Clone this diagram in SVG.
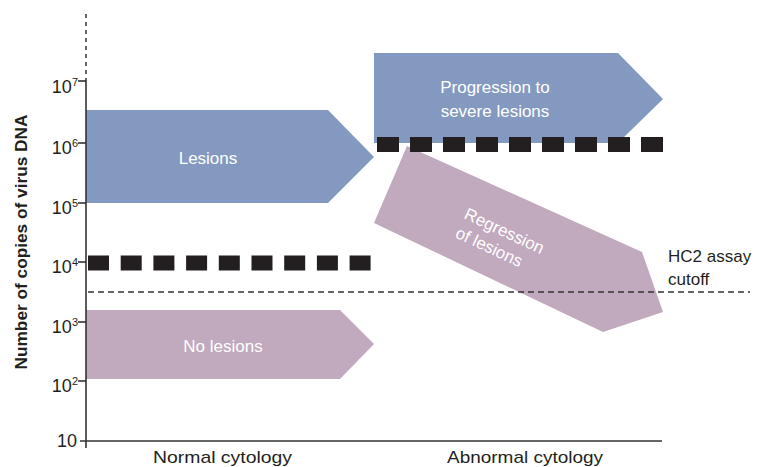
<svg xmlns="http://www.w3.org/2000/svg" width="762" height="467" viewBox="0 0 762 467">
<style>
  text { font-family: "Liberation Sans", Arial, sans-serif; }
  .tick { font-size: 18px; fill: #231f20; }
  .sup { font-size: 11px; }
  .lbl { font-size: 17px; fill: #231f20; }
  .inner { font-size: 17px; fill: #ffffff; }
  .blue { fill: #8399bf; }
  .pink { fill: #c1a9be; }
  .axis { stroke: #333; stroke-width: 1.6; fill: none; }
  .blk { stroke: #231f20; stroke-width: 15; stroke-dasharray: 22 11; fill: none; }
</style>
<rect width="762" height="467" fill="#ffffff"/>

<g id="lesions">
  <polygon class="blue" points="86,110 328,110 374,157 328,203 86,203"/>
  <text class="inner" x="208" y="164" text-anchor="middle">Lesions</text>
</g>
<g id="no-lesions">
  <polygon class="pink" points="86,310 340,310 374,344 340,379 86,379"/>
  <text class="inner" x="223" y="352" text-anchor="middle">No lesions</text>
</g>
<g id="progression">
  <polygon class="blue" points="374,53 618,53 663,99 618,143 374,143"/>
  <text class="inner" x="495" y="93" text-anchor="middle">Progression to</text>
  <text class="inner" x="495" y="117" text-anchor="middle">severe lesions</text>
</g>
<g id="regression">
  <polygon class="pink" points="407,146 642,252 663,312 603,332 374,223"/>
  <g transform="translate(463,218) rotate(25)">
    <text class="inner" x="0" y="0">Regression</text>
    <text class="inner" x="0" y="21">of lesions</text>
  </g>
</g>

<g id="connectors">
  <line class="blk" x1="377" y1="144.5" x2="663" y2="144.5"/>
  <line class="blk" x1="88" y1="263" x2="371" y2="263" style="stroke-dasharray:21 11.7"/>
  <line x1="88" y1="292" x2="750" y2="292" stroke="#333" stroke-width="1.4" stroke-dasharray="6 4"/>
</g>

<g id="axes">
  <line x1="86" y1="14" x2="86" y2="80" stroke="#333" stroke-width="1.5" stroke-dasharray="4 4"/>
  <line class="axis" x1="86" y1="80" x2="86" y2="448"/>
  <line class="axis" x1="80" y1="441" x2="662" y2="441"/>
  <g class="axis">
    <line x1="78" y1="81" x2="86" y2="81"/>
    <line x1="78" y1="143" x2="86" y2="143"/>
    <line x1="78" y1="203" x2="86" y2="203"/>
    <line x1="78" y1="262" x2="86" y2="262"/>
    <line x1="78" y1="322" x2="86" y2="322"/>
    <line x1="78" y1="381" x2="86" y2="381"/>
  </g>
  <text class="tick" x="78" y="93" text-anchor="end">10<tspan class="sup" dy="-7">7</tspan></text>
  <text class="tick" x="78" y="154" text-anchor="end">10<tspan class="sup" dy="-7">6</tspan></text>
  <text class="tick" x="78" y="214" text-anchor="end">10<tspan class="sup" dy="-7">5</tspan></text>
  <text class="tick" x="78" y="273" text-anchor="end">10<tspan class="sup" dy="-7">4</tspan></text>
  <text class="tick" x="78" y="333" text-anchor="end">10<tspan class="sup" dy="-7">3</tspan></text>
  <text class="tick" x="78" y="392" text-anchor="end">10<tspan class="sup" dy="-7">2</tspan></text>
  <text class="tick" x="77" y="447" text-anchor="end">10</text>
  <text transform="translate(27,242) rotate(-90)" text-anchor="middle" font-size="17" font-weight="bold" fill="#231f20" textLength="255" lengthAdjust="spacingAndGlyphs">Number of copies of virus DNA</text>
  <text class="lbl" x="153" y="463" textLength="139" lengthAdjust="spacingAndGlyphs">Normal cytology</text>
  <text class="lbl" x="447" y="463" textLength="156" lengthAdjust="spacingAndGlyphs">Abnormal cytology</text>
</g>

<g id="hc2-label">
  <text class="lbl" x="668" y="262" font-size="16">HC2 assay</text>
  <text class="lbl" x="668" y="285" font-size="16">cutoff</text>
</g>
</svg>
